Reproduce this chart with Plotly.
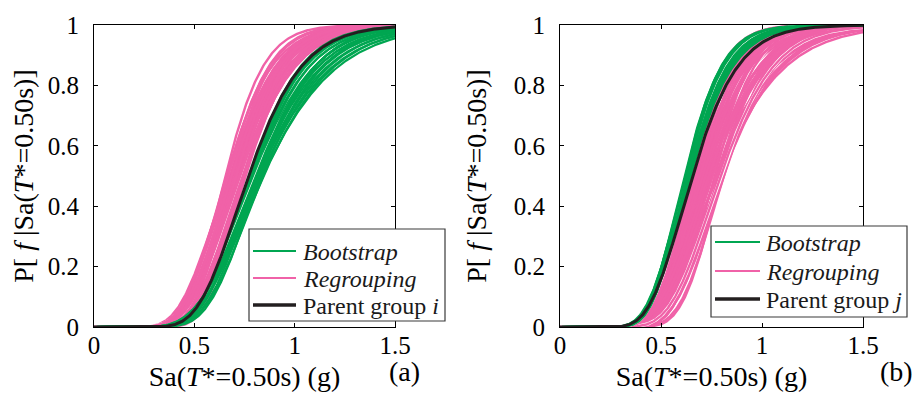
import math
import numpy as np
import plotly.graph_objects as go

# ---------------- data ----------------
# lognormal fragility parameters: median (g) and dispersion beta
parent_a = (0.77, 0.27)
parent_b = (0.655, 0.27)

boot_a_median = [0.775, 0.78, 0.785, 0.79, 0.79, 0.80, 0.80, 0.805, 0.81, 0.81,
                 0.815, 0.82, 0.82, 0.825, 0.83, 0.83, 0.835, 0.84, 0.84, 0.845]
boot_a_beta = [0.26, 0.27, 0.27, 0.28, 0.26, 0.29, 0.27, 0.30, 0.28, 0.31,
               0.29, 0.32, 0.27, 0.30, 0.33, 0.26, 0.31, 0.34, 0.28, 0.32]

regr_a_median = [0.655, 0.66, 0.665, 0.67, 0.67, 0.675, 0.68, 0.68, 0.685, 0.69,
                 0.69, 0.695, 0.70, 0.70, 0.705, 0.71, 0.71, 0.715, 0.72, 0.72,
                 0.725, 0.73, 0.73, 0.735, 0.74, 0.74, 0.745, 0.75, 0.75, 0.755,
                 0.665, 0.685, 0.705, 0.725, 0.745, 0.75]
regr_a_beta = [0.23, 0.27, 0.25, 0.31, 0.24, 0.29, 0.26, 0.30, 0.23, 0.28,
               0.25, 0.30, 0.24, 0.27, 0.29, 0.23, 0.26, 0.28, 0.25, 0.30,
               0.24, 0.27, 0.22, 0.26, 0.25, 0.28, 0.23, 0.26, 0.21, 0.25,
               0.29, 0.27, 0.25, 0.29, 0.27, 0.24]

boot_b_median = [0.615, 0.62, 0.62, 0.625, 0.625, 0.63, 0.63, 0.635, 0.635, 0.64,
                 0.64, 0.645, 0.628, 0.638, 0.632, 0.642]
boot_b_beta = [0.24, 0.23, 0.25, 0.24, 0.26, 0.24, 0.25, 0.24, 0.26, 0.25,
               0.26, 0.26, 0.23, 0.24, 0.25, 0.25]

regr_b_median = [0.63, 0.64, 0.645, 0.65, 0.66, 0.665, 0.67, 0.675, 0.68, 0.685,
                 0.69, 0.695, 0.70, 0.705, 0.71, 0.715, 0.72, 0.725, 0.73, 0.735,
                 0.74, 0.745, 0.75, 0.755, 0.76, 0.765, 0.77, 0.775, 0.78, 0.785,
                 0.79, 0.795, 0.80, 0.80, 0.805, 0.81, 0.81, 0.70, 0.74, 0.66,
                 0.675, 0.72, 0.755, 0.69, 0.775, 0.795, 0.705, 0.735]
regr_b_beta = [0.22, 0.23, 0.21, 0.24, 0.22, 0.25, 0.23, 0.26, 0.21, 0.24,
               0.27, 0.22, 0.25, 0.28, 0.23, 0.26, 0.29, 0.21, 0.24, 0.27,
               0.30, 0.22, 0.25, 0.28, 0.31, 0.21, 0.26, 0.29, 0.33, 0.23,
               0.27, 0.30, 0.20, 0.24, 0.28, 0.22, 0.25, 0.21, 0.26, 0.24,
               0.23, 0.24, 0.26, 0.25, 0.31, 0.26, 0.27, 0.29]

x_ticks = [0, 0.5, 1, 1.5]
x_tick_labels = ["0", "0.5", "1", "1.5"]
y_ticks = [0, 0.2, 0.4, 0.6, 0.8, 1]
y_tick_labels = ["0", "0.2", "0.4", "0.6", "0.8", "1"]

legend_labels_a = ["<i>Bootstrap</i>", "<i>Regrouping</i>", "Parent group <i>i</i>"]
legend_labels_b = ["<i>Bootstrap</i>", "<i>Regrouping</i>", "Parent group <i>j</i>"]

# ---------------- styling ----------------
FONT = "Liberation Serif"
GREEN = "#00A651"
PINK = "#F062A8"
BLACK = "#231F20"
W, H = 922, 395

sa = np.concatenate([[0.0], np.linspace(0.002, 1.5, 400)])


def cdf(median, beta):
    out = [0.0]
    for v in sa[1:]:
        out.append(0.5 * (1.0 + math.erf(math.log(v / median) / (beta * math.sqrt(2.0)))))
    return out


def px_x(p):
    return p / W


def px_y(p):
    return 1 - p / H


fig = go.Figure()


def add_curve(xa, ya, y, color, width, name, edged):
    if edged:
        # thin white edge, as seen between some overlapping curves of the original
        fig.add_trace(go.Scatter(x=sa, y=y, mode="lines", line=dict(color="white", width=width + 1.0),
                                 showlegend=False, xaxis=xa, yaxis=ya, hoverinfo="skip"))
    fig.add_trace(go.Scatter(x=sa, y=y, mode="lines", line=dict(color=color, width=width),
                             name=name, showlegend=False, xaxis=xa, yaxis=ya, hoverinfo="skip"))


def add_panel(xa, ya, boot_m, boot_b, reg_m, reg_b, parent, labels):
    for i, (m, b) in enumerate(zip(reg_m, reg_b)):
        add_curve(xa, ya, cdf(m, b), PINK, 2.4, labels[1], i % 20 == 5)
    for i, (m, b) in enumerate(zip(boot_m, boot_b)):
        add_curve(xa, ya, cdf(m, b), GREEN, 2.2, labels[0], i % 15 == 7)
    fig.add_trace(go.Scatter(x=sa, y=cdf(*parent), mode="lines",
                             line=dict(color=BLACK, width=3), name=labels[2],
                             showlegend=False, xaxis=xa, yaxis=ya, hoverinfo="skip"))


add_panel("x", "y", boot_a_median, boot_a_beta, regr_a_median, regr_a_beta,
          parent_a, legend_labels_a)
add_panel("x2", "y2", boot_b_median, boot_b_beta, regr_b_median, regr_b_beta,
          parent_b, legend_labels_b)

axis_common = dict(showline=True, linecolor="black", linewidth=1, mirror="ticks",
                   ticks="inside", ticklen=4, tickcolor="black", showgrid=False,
                   zeroline=False, tickfont=dict(family=FONT, size=25, color="black"),
                   automargin=False)

xtitle = "Sa(<i>T</i>*=0.50s) (g)"
ytitle = "P[ <i>f</i> |Sa(<i>T</i>*=0.50s)]"

layout_axes = {}
for suffix, (x0, x1) in {"": (86, 387), "2": (552, 855)}.items():
    layout_axes["xaxis" + suffix] = dict(
        axis_common, domain=[px_x(x0), px_x(x1)], range=[0, 1.5],
        tickvals=x_ticks, ticktext=x_tick_labels, ticklabelstandoff=-4,
        anchor="y" + suffix,
        title=dict(text=xtitle, font=dict(family=FONT, size=28, color="black"), standoff=8))
    layout_axes["yaxis" + suffix] = dict(
        axis_common, domain=[px_y(319), px_y(17)], range=[0, 1],
        tickvals=y_ticks, ticktext=y_tick_labels, ticklabelstandoff=9,
        anchor="x" + suffix,
        title=dict(text=ytitle, font=dict(family=FONT, size=28, color="black"), standoff=18))

# ---- legends drawn as boxes, sample lines and texts (paper pixels) ----
shapes = []
annotations = []
legend_specs = [
    # box x0, x1, y0, y1, line x0, x1, text x, row y's, labels
    (241, 437, 221, 313, 245, 288, 293, (243, 270, 297), legend_labels_a),
    (703, 899, 218, 309, 707, 752, 756, (234, 263, 291), legend_labels_b),
]
for bx0, bx1, by0, by1, lx0, lx1, tx, rows, labels in legend_specs:
    shapes.append(dict(type="rect", xref="paper", yref="paper",
                       x0=px_x(bx0), x1=px_x(bx1), y0=px_y(by1), y1=px_y(by0),
                       fillcolor="white", line=dict(color="#3a3a3a", width=1.2),
                       layer="above"))
    for col, wid, ry, lab in zip([GREEN, PINK, BLACK], [2.2, 2.2, 3.5], rows, labels):
        shapes.append(dict(type="line", xref="paper", yref="paper",
                           x0=px_x(lx0), x1=px_x(lx1), y0=px_y(ry), y1=px_y(ry),
                           line=dict(color=col, width=wid), layer="above"))
        annotations.append(dict(text=lab, x=px_x(tx), y=px_y(ry + 1), xref="paper",
                                yref="paper", xanchor="left", yanchor="middle",
                                showarrow=False,
                                font=dict(family=FONT, size=24, color="#1a1a1a")))

annotations += [
    dict(text="(a)", x=px_x(396), y=px_y(381), xref="paper", yref="paper",
         showarrow=False, font=dict(family=FONT, size=28, color="black")),
    dict(text="(b)", x=px_x(907), y=px_y(381), xref="paper", yref="paper",
         showarrow=False, font=dict(family=FONT, size=28, color="black")),
]

fig.update_layout(
    width=W, height=H, autosize=False,
    margin=dict(l=0, r=0, t=0, b=0),
    paper_bgcolor="white", plot_bgcolor="white",
    showlegend=False,
    shapes=shapes,
    annotations=annotations,
    **layout_axes,
)

fig.write_html("out.html")
